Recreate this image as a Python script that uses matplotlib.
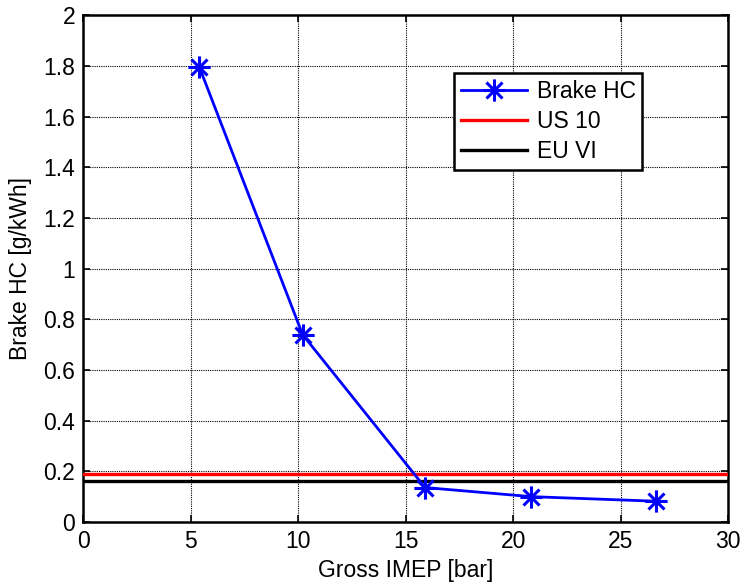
import numpy as np
import matplotlib
matplotlib.use("Agg")
import matplotlib.pyplot as plt
from matplotlib.path import Path
from matplotlib.ticker import FuncFormatter

# Brake-specific hydrocarbon emissions versus gross IMEP
imep = [5.4, 10.2, 15.9, 20.85, 26.65]
brake_hc = [1.795, 0.74, 0.136, 0.10, 0.082]

# Emission limits [g/kWh]
us10_limit = 0.19
euvi_limit = 0.16

x_ticks = [0, 5, 10, 15, 20, 25, 30]
y_ticks = [0, 0.2, 0.4, 0.6, 0.8, 1.0, 1.2, 1.4, 1.6, 1.8, 2.0]

plt.rcParams["font.family"] = ["Liberation Sans", "DejaVu Sans"]
FS = 16.5
plt.rcParams["font.size"] = FS

# Eight-armed asterisk marker
d = 0.72
asterisk = Path(
    [(0, -1), (0, 1), (-1, 0), (1, 0), (-d, -d), (d, d), (-d, d), (d, -d)],
    [Path.MOVETO, Path.LINETO] * 4,
)

fig = plt.figure(figsize=(7.4, 5.84), dpi=100)
ax = fig.add_axes([0.1128, 0.1062, 0.8709, 0.8673])

ax.plot(imep, brake_hc, color="blue", lw=2.0, marker=asterisk, ms=16,
        mew=2.2, mec="blue", mfc="none", label="Brake HC", zorder=5)
ax.axhline(us10_limit, color="red", lw=2.4, label="US 10", zorder=4)
ax.axhline(euvi_limit, color="black", lw=2.4, label="EU VI", zorder=4)

ax.set_xlim(x_ticks[0], x_ticks[-1])
ax.set_ylim(y_ticks[0], y_ticks[-1])
ax.set_xticks(x_ticks)
ax.set_yticks(y_ticks)
ax.yaxis.set_major_formatter(FuncFormatter(lambda v, p: f"{v:g}"))
ax.xaxis.set_major_formatter(FuncFormatter(lambda v, p: f"{v:g}"))

ax.grid(True, color="black", linestyle=(0, (1, 1)), linewidth=0.8)
ax.set_axisbelow(True)
ax.tick_params(direction="in", top=True, right=True, length=5, width=1.2,
               labelsize=FS, pad=6)
for s in ax.spines.values():
    s.set_linewidth(1.8)

ax.set_xlabel("Gross IMEP [bar]", fontsize=FS, labelpad=4)
ax.set_ylabel("Brake HC [g/kWh]", fontsize=FS, labelpad=8)

leg = ax.legend(loc="upper left", bbox_to_anchor=(0.575, 0.886),
                fontsize=FS, frameon=True, fancybox=False, shadow=False,
                framealpha=1, edgecolor="black", handlelength=2.9,
                handletextpad=0.4, labelspacing=0.3, borderpad=0.3,
                borderaxespad=0)
leg.get_frame().set_linewidth(1.8)

fig.savefig("out.png", dpi=100, facecolor="white")
